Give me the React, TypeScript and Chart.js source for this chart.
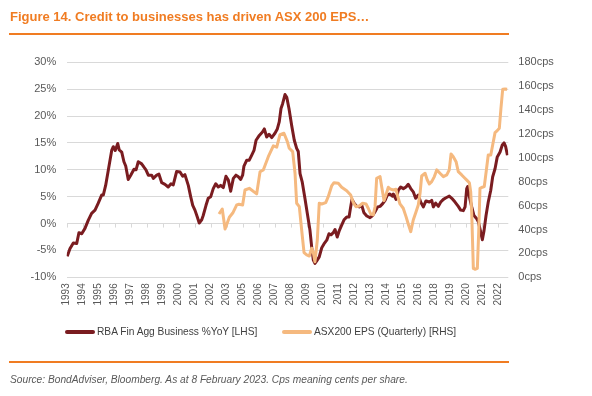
import React, { useEffect, useRef } from "react";
import { Chart, registerables } from "chart.js";

Chart.register(...registerables);

// ---- Tick labels (one per 13-month interval, as in the source chart) ----
const xTickLabels = [
  "1993", "1994", "1995", "1996", "1997", "1998", "1999", "2000", "2001", "2002",
  "2003", "2005", "2006", "2007", "2008", "2009", "2010", "2011", "2012", "2013",
  "2014", "2015", "2016", "2018", "2019", "2020", "2021", "2022",
];
const leftTickSuffix = "%";
const rightTickSuffix = "cps";

// ---- RBA Fin Agg Business %YoY [LHS] ----
const rbaYears = [
  1993.08, 1993.26, 1993.49, 1993.72, 1993.87, 1994.06, 1994.28, 1994.5, 1994.73, 1994.96,
  1995.18, 1995.41, 1995.52, 1995.68, 1995.86, 1996.09, 1996.2, 1996.33, 1996.5, 1996.6,
  1996.77, 1996.92, 1997.04, 1997.21, 1997.38, 1997.6, 1997.74, 1997.89, 1998.12, 1998.3,
  1998.41, 1998.57, 1998.8, 1998.91, 1999.14, 1999.29, 1999.48, 1999.7, 1999.92, 2000.11,
  2000.26, 2000.38, 2000.49, 2000.72, 2000.9, 2001.05, 2001.28, 2001.44, 2001.58, 2001.73,
  2001.89, 2002.02, 2002.19, 2002.29, 2002.48, 2002.63, 2002.8, 2002.97, 2003.14, 2003.31,
  2003.47, 2003.65, 2003.83, 2003.99, 2004.15, 2004.33, 2004.51, 2004.67, 2004.83, 2004.96,
  2005.05, 2005.24, 2005.41, 2005.57, 2005.73, 2005.87, 2006.09, 2006.32, 2006.43, 2006.59,
  2006.75, 2006.93, 2007.15, 2007.31, 2007.44, 2007.56, 2007.67, 2007.83, 2007.95, 2008.1,
  2008.28, 2008.46, 2008.62, 2008.73, 2008.85, 2009.0, 2009.18, 2009.34, 2009.52, 2009.64,
  2009.75, 2009.86, 2010.02, 2010.15, 2010.32, 2010.47, 2010.66, 2010.81, 2010.95, 2011.1,
  2011.22, 2011.37, 2011.51, 2011.67, 2011.83, 2012.01, 2012.17, 2012.28, 2012.37, 2012.51,
  2012.69, 2012.86, 2013.03, 2013.18, 2013.37, 2013.59, 2013.77, 2013.93, 2014.11, 2014.27,
  2014.45, 2014.61, 2014.76, 2014.94, 2015.1, 2015.17, 2015.35, 2015.51, 2015.67, 2015.85,
  2016.03, 2016.18, 2016.35, 2016.52, 2016.68, 2016.86, 2017.02, 2017.2, 2017.38, 2017.61,
  2017.77, 2017.88, 2018.04, 2018.22, 2018.38, 2018.56, 2018.74, 2018.96, 2019.13, 2019.35,
  2019.57, 2019.73, 2019.91, 2020.03, 2020.14, 2020.21, 2020.32, 2020.48, 2020.63, 2020.82,
  2020.93, 2021.09, 2021.2, 2021.31, 2021.45, 2021.6, 2021.77, 2021.9, 2022.06, 2022.21,
  2022.4, 2022.55, 2022.67, 2022.78, 2022.9,
];
const rbaValues = [
  -6.1, -4.7, -3.6, -3.7, -1.7, -1.9, -0.9, 0.6, 1.9, 2.5,
  3.8, 5.3, 5.3, 7.1, 9.9, 13.6, 14.3, 13.6, 14.9, 13.7,
  13.3, 11.5, 10.7, 8.2, 9.0, 10.1, 10.0, 11.5, 11.1, 10.4,
  10.0, 9.0, 9.0, 8.4, 9.0, 9.2, 7.6, 7.3, 6.8, 7.4,
  7.2, 8.5, 9.7, 9.6, 8.8, 9.1, 7.1, 5.0, 3.4, 2.5,
  1.2, 0.1, 0.7, 1.5, 3.4, 4.7, 5.0, 6.5, 7.4, 6.8,
  7.1, 6.7, 8.8, 8.1, 6.0, 8.4, 9.0, 8.7, 8.2, 9.0,
  10.7, 11.8, 11.8, 12.7, 13.6, 15.5, 16.4, 17.1, 17.6, 16.1,
  16.6, 16.0, 16.8, 17.6, 18.9, 21.4, 22.3, 24.0, 23.5, 21.4,
  18.3, 15.5, 14.0, 13.4, 9.3, 7.7, 4.7, 1.9, -1.2, -4.4,
  -6.8, -7.4, -6.8, -6.2, -4.5, -3.8, -3.1, -1.9, -2.1, -1.7,
  -1.1, -2.5, -1.3, -0.3, 0.7, 1.2, 1.2, 3.1, 4.5, 3.8,
  3.2, 3.1, 3.4, 2.0, 1.4, 1.1, 1.5, 2.2, 3.1, 3.2,
  3.7, 4.3, 5.3, 5.5, 5.1, 5.5, 4.5, 6.2, 6.8, 6.5,
  6.8, 7.3, 6.5, 5.9, 4.7, 5.3, 4.0, 3.1, 4.2, 4.0,
  4.3, 3.1, 3.8, 3.2, 4.0, 4.5, 4.8, 5.1, 4.7, 4.0,
  3.2, 2.5, 2.4, 3.1, 6.5, 6.9, 5.0, 3.1, 1.5, 0.9,
  0.3, -1.6, -3.0, -1.4, 1.5, 4.0, 6.2, 8.7, 10.2, 12.4,
  13.3, 14.6, 15.0, 14.3, 12.7,
];

// ---- ASX200 EPS (Quarterly) [RHS], cents per share ----
const epsYears = [
  2003.36, 2003.58, 2003.77, 2004.06, 2004.29, 2004.56, 2004.71, 2004.96, 2005.12, 2005.41,
  2005.91, 2006.14, 2006.36, 2006.7, 2007.04, 2007.27, 2007.49, 2007.76, 2007.99, 2008.12,
  2008.35, 2008.51, 2008.62, 2008.8, 2008.96, 2009.12, 2009.3, 2009.48, 2009.64, 2009.75,
  2009.86, 2010.02, 2010.15, 2010.32, 2010.59, 2010.76, 2010.99, 2011.15, 2011.44, 2011.67,
  2012.01, 2012.28, 2012.46, 2012.64, 2012.86, 2013.09, 2013.32, 2013.47, 2013.64, 2013.81,
  2013.93, 2014.04, 2014.27, 2014.38, 2014.54, 2014.67, 2014.83, 2014.94, 2015.17, 2015.35,
  2015.44, 2015.62, 2015.84, 2016.03, 2016.18, 2016.35, 2016.52, 2016.71, 2016.86, 2016.98,
  2017.09, 2017.32, 2017.47, 2017.61, 2017.77, 2017.95, 2018.11, 2018.33, 2018.56, 2018.79,
  2018.96, 2019.08, 2019.23, 2019.42, 2019.57, 2019.8, 2020.02, 2020.18, 2020.32, 2020.41,
  2020.48, 2020.59, 2020.7, 2020.86, 2020.95, 2021.04, 2021.2, 2021.33, 2021.5, 2021.6,
  2021.77, 2021.9, 2022.06, 2022.21, 2022.35, 2022.46, 2022.58, 2022.74, 2022.88,
];
const epsValues = [
  53.0, 57.2, 40.5, 50.3, 53.8, 60.6, 61.1, 60.6, 73.1, 74.5,
  69.8, 88.4, 89.9, 101.0, 110.0, 108.9, 119.4, 120.6, 113.6, 108.0,
  105.2, 87.1, 62.0, 59.1, 39.6, 20.6, 18.7, 17.8, 24.3, 20.6,
  13.1, 31.2, 62.0, 61.4, 62.5, 67.5, 76.5, 79.2, 78.7, 75.4,
  72.5, 68.9, 62.5, 59.1, 59.7, 62.0, 61.4, 57.8, 53.0, 52.2,
  59.1, 82.9, 84.3, 75.9, 64.2, 68.9, 75.4, 74.0, 73.1, 73.7,
  68.9, 61.4, 57.8, 50.8, 44.6, 38.2, 48.0, 54.9, 60.6, 70.3,
  84.8, 87.1, 81.5, 78.1, 80.1, 84.3, 89.9, 87.1, 84.3, 85.7,
  89.9, 103.3, 101.0, 96.8, 88.4, 85.7, 82.9, 80.9, 79.2, 71.7,
  53.6, 7.5, 6.7, 7.5, 36.9, 74.5, 75.4, 75.9, 92.6, 102.4,
  102.4, 110.8, 121.1, 122.8, 124.8, 141.5, 157.5, 157.7, 157.5,
];

// ---- Axis domains ----
const X_MIN = 1993.042;
const X_MAX = 2022.958;
const X_LABEL_STEP = 13 / 12;

const MAROON = "#7A1C20";
const PEACH = "#F5B97F";
const ORANGE = "#F07C22";
const GRID = "#D9D9D9";
const TICK_TEXT = "#595959";
const FONT = "'Liberation Sans', Arial, sans-serif";

const zeroLineTicks = {
  id: "zeroLineTicks",
  beforeDatasetsDraw(chart: any) {
    const xs = chart.scales.x;
    const ys = chart.scales.y;
    const y0 = ys.getPixelForValue(0);
    const ctx = chart.ctx;
    ctx.save();
    ctx.strokeStyle = GRID;
    ctx.lineWidth = 1;
    ctx.beginPath();
    xs.ticks.forEach((t: any) => {
      const x = Math.round(xs.getPixelForValue(t.value)) + 0.5;
      ctx.moveTo(x, y0);
      ctx.lineTo(x, y0 + 4);
    });
    ctx.stroke();
    ctx.restore();
  },
};

export default function App() {
  const canvasRef = useRef<HTMLCanvasElement | null>(null);

  useEffect(() => {
    if (!canvasRef.current) return;
    const rba = rbaYears.map((x, i) => ({ x, y: rbaValues[i] }));
    const eps = epsYears.map((x, i) => ({ x, y: epsValues[i] }));
    const chart = new Chart(canvasRef.current, {
      type: "line",
      data: {
        datasets: [
          {
            label: "RBA Fin Agg Business %YoY [LHS]",
            data: rba,
            yAxisID: "y",
            borderColor: MAROON,
            backgroundColor: MAROON,
            borderWidth: 3,
            pointRadius: 0,
            tension: 0,
            borderJoinStyle: "round",
            order: 2,
          },
          {
            label: "ASX200 EPS (Quarterly) [RHS]",
            data: eps,
            yAxisID: "y1",
            borderColor: PEACH,
            backgroundColor: PEACH,
            borderWidth: 3,
            pointRadius: 0,
            tension: 0,
            borderJoinStyle: "round",
            order: 1,
          },
        ],
      },
      options: {
        responsive: false,
        animation: false,
        parsing: false as any,
        layout: { padding: { top: 62.3, left: 0, right: 0, bottom: 396 - 277.3 - 30 } },
        plugins: {
          legend: { display: false },
          tooltip: { enabled: false },
        },
        scales: {
          x: {
            type: "linear",
            min: X_MIN,
            max: X_MAX,
            afterBuildTicks: (scale: any) => {
              scale.ticks = xTickLabels.map((_, k) => ({ value: X_MIN + k * X_LABEL_STEP }));
            },
            afterFit: (scale: any) => {
              scale.height = 30;
            },
            grid: { display: false, drawTicks: false },
            border: { display: false },
            ticks: {
              autoSkip: false,
              maxRotation: 90,
              minRotation: 90,
              padding: 6,
              color: TICK_TEXT,
              font: { family: FONT, size: 10 },
              callback: (_v: any, i: number) => xTickLabels[i],
            },
          },
          y: {
            type: "linear",
            position: "left",
            min: -10,
            max: 30,
            afterFit: (scale: any) => {
              scale.width = 66.7;
            },
            grid: { color: GRID, lineWidth: 1, drawTicks: false },
            border: { display: false },
            ticks: {
              stepSize: 5,
              padding: 10.5,
              color: TICK_TEXT,
              font: { family: FONT, size: 11 },
              callback: (v: any) => `${v}${leftTickSuffix}`,
            },
          },
          y1: {
            type: "linear",
            position: "right",
            min: 0,
            max: 180,
            afterFit: (scale: any) => {
              scale.width = 592 - 508.3;
            },
            grid: { display: false, drawTicks: false },
            border: { display: false },
            ticks: {
              stepSize: 20,
              padding: 10,
              color: TICK_TEXT,
              font: { family: FONT, size: 11 },
              callback: (v: any) => `${v}${rightTickSuffix}`,
            },
          },
        },
      },
      plugins: [zeroLineTicks],
    });
    return () => chart.destroy();
  }, []);

  const legendText: React.CSSProperties = {
    position: "absolute",
    top: 325,
    fontFamily: FONT,
    fontSize: 10.2,
    color: "#404040",
    whiteSpace: "nowrap",
    lineHeight: "14px",
  };

  return (
    <div
      style={{
        position: "fixed",
        left: 0,
        top: 0,
        width: 592,
        height: 396,
        background: "#ffffff",
        overflow: "hidden",
      }}
    >
      <canvas
        ref={canvasRef}
        width={592}
        height={396}
        style={{ position: "absolute", left: 0, top: 0, width: 592, height: 396 }}
      />
      <div
        style={{
          position: "absolute",
          left: 10,
          top: 9,
          fontFamily: FONT,
          fontWeight: "bold",
          fontSize: 13,
          lineHeight: "15px",
          color: ORANGE,
          whiteSpace: "nowrap",
        }}
      >
        Figure 14. Credit to businesses has driven ASX 200 EPS…
      </div>
      <div style={{ position: "absolute", left: 9, top: 33, width: 500, height: 2, background: ORANGE }} />
      <div style={{ position: "absolute", left: 65, top: 330, width: 30, height: 4, background: MAROON, borderRadius: 2 }} />
      <div style={{ ...legendText, left: 97 }}>RBA Fin Agg Business %YoY [LHS]</div>
      <div style={{ position: "absolute", left: 282, top: 330, width: 30, height: 4, background: PEACH, borderRadius: 2 }} />
      <div style={{ ...legendText, left: 314 }}>ASX200 EPS (Quarterly) [RHS]</div>
      <div style={{ position: "absolute", left: 9, top: 361, width: 500, height: 2, background: ORANGE }} />
      <div
        style={{
          position: "absolute",
          left: 10,
          top: 374,
          fontFamily: FONT,
          fontStyle: "italic",
          fontSize: 10.2,
          lineHeight: "12px",
          color: "#595959",
          whiteSpace: "nowrap",
        }}
      >
        Source: BondAdviser, Bloomberg. As at 8 February 2023. Cps meaning cents per share.
      </div>
    </div>
  );
}
